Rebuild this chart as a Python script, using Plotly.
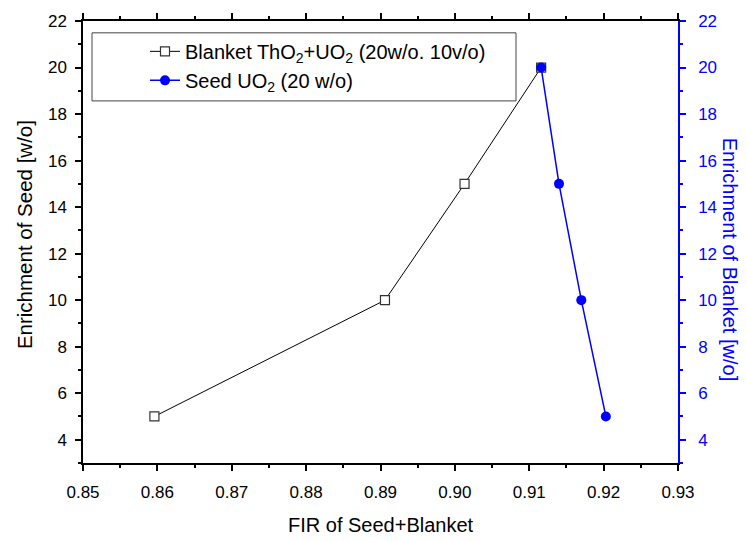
import plotly.graph_objects as go

# Data
blanket_x = [0.8596, 0.8906, 0.9013, 0.9116]
blanket_y = [5, 10, 15, 20]
seed_x = [0.9116, 0.9140, 0.9170, 0.9203]
seed_y = [20, 15, 10, 5]

blanket_name = "Blanket ThO<sub>2</sub>+UO<sub>2</sub> (20w/o. 10v/o)"
seed_name = "Seed UO<sub>2</sub> (20 w/o)"
x_title = "FIR of Seed+Blanket"
y_title = "Enrichment of Seed [w/o]"
y2_title = "Enrichment of Blanket [w/o]"

FONT = "Liberation Sans, Arial, sans-serif"
BLUE = "#0000FF"

W, H = 747, 541
ML, MR, MT, MB = 83, 69, 15, 78
PW, PH = W - ML - MR, H - MT - MB


def px_x(p):
    return (p - ML) / PW


def px_y(p):
    return 1 - (p - MT) / PH


fig = go.Figure()
fig.add_trace(go.Scatter(
    x=blanket_x, y=blanket_y, name=blanket_name, mode="lines+markers",
    line=dict(color="black", width=1),
    marker=dict(symbol="square", size=9, color="white", line=dict(color="#333333", width=1.2)),
))
fig.add_trace(go.Scatter(
    x=seed_x, y=seed_y, name=seed_name, mode="lines+markers", yaxis="y2",
    line=dict(color=BLUE, width=1.5),
    marker=dict(symbol="circle", size=10, color=BLUE, line=dict(width=0)),
))

tick_common = dict(
    showgrid=False, zeroline=False, showline=True, linewidth=1.5,
    ticks="outside", ticklen=6, tickwidth=1.5,
)

fig.update_layout(
    width=W, height=H,
    margin=dict(l=ML, r=MR, t=MT, b=MB),
    paper_bgcolor="white", plot_bgcolor="white",
    font=dict(family=FONT, size=17, color="black"),
    showlegend=True,
    legend=dict(
        x=px_x(145), y=px_y(26), xanchor="left", yanchor="top",
        borderwidth=0, bgcolor="rgba(0,0,0,0)",
        font=dict(family=FONT, size=20, color="black"),
        tracegroupgap=0,
    ),
    xaxis=dict(
        range=[0.85, 0.93], dtick=0.01, tick0=0.85, tickformat=".2f",
        linecolor="black", tickcolor="black", mirror="ticks", ticklabelstandoff=7,
        minor=dict(ticks="outside", dtick=0.005, ticklen=3, tickwidth=1.5, tickcolor="black"),
        tickfont=dict(size=17), **tick_common,
    ),
    yaxis=dict(
        range=[3, 22], dtick=2, tick0=0,
        linecolor="black", tickcolor="black", ticklabelstandoff=5,
        minor=dict(ticks="outside", dtick=1, ticklen=3, tickwidth=1.5, tickcolor="black"),
        tickfont=dict(size=17), **tick_common,
    ),
    yaxis2=dict(
        range=[3, 22], dtick=2, tick0=0, overlaying="y", side="right",
        linecolor=BLUE, tickcolor=BLUE, ticklabelstandoff=9,
        minor=dict(ticks="outside", dtick=1, ticklen=3, tickwidth=1.5, tickcolor=BLUE),
        tickfont=dict(size=17, color=BLUE), **tick_common,
    ),
    shapes=[dict(
        type="rect", xref="paper", yref="paper",
        x0=px_x(92), x1=px_x(516), y0=px_y(96), y1=px_y(27),
        line=dict(color="#444444", width=1), fillcolor="white", layer="below",
    )],
    annotations=[
        dict(text=x_title, xref="paper", yref="paper", x=0.5, y=0, yshift=-62,
             xanchor="center", yanchor="middle", showarrow=False,
             font=dict(family=FONT, size=20, color="black")),
        dict(text=y_title, textangle=-90, xref="paper", yref="paper",
             x=0, y=px_y(232), xshift=24 - ML, xanchor="center", yanchor="middle",
             showarrow=False, font=dict(family=FONT, size=20.5, color="black")),
        dict(text=y2_title, textangle=90, xref="paper", yref="paper",
             x=1, y=px_y(256), xshift=730 - (W - MR), xanchor="center", yanchor="middle",
             showarrow=False, font=dict(family=FONT, size=20, color=BLUE)),
    ],
)

fig.write_html("out.html")
